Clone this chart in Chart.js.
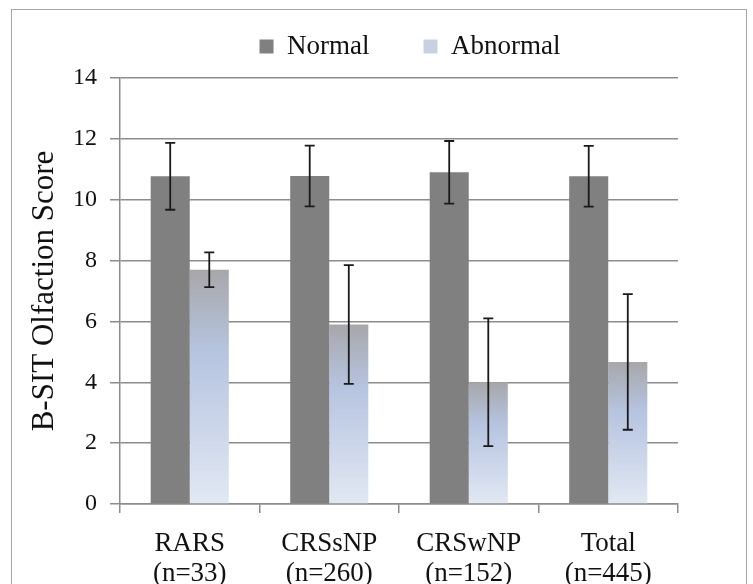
<!DOCTYPE html>
<html lang="en">
<head>
  <meta charset="UTF-8" />
  <title>B-SIT Olfaction Score</title>
  <script src="https://cdn.jsdelivr.net/npm/chart.js"></script>
  <style>
    body {
      margin: 0;
      background: #ffffff;
    }
    #wrap {
      position: relative;
      width: 753px;
      height: 584px;
    }
  </style>
</head>
<body>
  <div id="wrap">
    <canvas id="scoreChart" width="753" height="584"></canvas>
  </div>

  <script>
    // values
    const categories = [['RARS', '(n=33)'], ['CRSsNP', '(n=260)'], ['CRSwNP', '(n=152)'], ['Total', '(n=445)']];
    const normalMeans = [10.77, 10.78, 10.9, 10.77];
    const normalErrors = [1.1, 1.0, 1.03, 1.0];
    const abnormalMeans = [7.7, 5.9, 4.0, 4.67];
    const abnormalErrors = [0.57, 1.95, 2.1, 2.23];
    const yTicks = [0, 2, 4, 6, 8, 10, 12, 14];

    const axisGray = '#8c8c8c';
    const textColor = '#111111';
    const serif = "'Liberation Serif', 'Times New Roman', serif";

    // light gray at the top of each bar fading to pale blue at the base
    function abnormalFill(context) {
      const chart = context.chart;
      if (context.type !== 'data' || !chart.chartArea) return '#c6cfe2';
      const y = chart.scales.y;
      const top = y.getPixelForValue(abnormalMeans[context.dataIndex]);
      const base = y.getPixelForValue(0);
      const g = chart.ctx.createLinearGradient(0, top, 0, base);
      g.addColorStop(0, '#a7a7aa');
      g.addColorStop(0.35, '#b6c4e0');
      g.addColorStop(1, '#e2e8f3');
      return g;
    }

    const errorBars = {
      id: 'errorBars',
      afterDatasetsDraw(chart) {
        const ctx = chart.ctx;
        const y = chart.scales.y;
        const errs = [normalErrors, abnormalErrors];
        const means = [normalMeans, abnormalMeans];
        ctx.save();
        ctx.strokeStyle = '#1a1a1a';
        ctx.lineWidth = 1.8;
        chart.data.datasets.forEach((ds, i) => {
          chart.getDatasetMeta(i).data.forEach((bar, j) => {
            const hi = y.getPixelForValue(means[i][j] + errs[i][j]);
            const lo = y.getPixelForValue(means[i][j] - errs[i][j]);
            const x = bar.x;
            ctx.beginPath();
            ctx.moveTo(x, hi); ctx.lineTo(x, lo);
            ctx.moveTo(x - 5, hi); ctx.lineTo(x + 5, hi);
            ctx.moveTo(x - 5, lo); ctx.lineTo(x + 5, lo);
            ctx.stroke();
          });
        });
        ctx.restore();
      }
    };

    // legend sits right of centre and higher up in the original
    const legendShift = {
      id: 'legendShift',
      afterLayout(chart) {
        const lg = chart.legend;
        lg.left += 61;
        lg.right += 61;
        lg.top -= 8;
        lg.bottom -= 8;
      }
    };

    const frame = {
      id: 'frame',
      beforeDraw(chart) {
        const ctx = chart.ctx;
        ctx.save();
        ctx.strokeStyle = '#a6a6a6';
        ctx.lineWidth = 1;
        ctx.strokeRect(11.5, 9.5, 735, 600);
        ctx.restore();
      }
    };

    new Chart(document.getElementById('scoreChart').getContext('2d'), {
      type: 'bar',
      data: {
        labels: categories,
        datasets: [
          { label: 'Normal', data: normalMeans, backgroundColor: '#808080' },
          { label: 'Abnormal', data: abnormalMeans, backgroundColor: abnormalFill }
        ]
      },
      options: {
        responsive: false,
        devicePixelRatio: 1,
        animation: false,
        layout: { padding: { top: -13, left: 20, right: 75, bottom: 0 } },
        datasets: { bar: { categoryPercentage: 0.56, barPercentage: 1.0 } },
        plugins: {
          tooltip: { enabled: false },
          legend: {
            position: 'top',
            labels: {
              boxWidth: 14,
              boxHeight: 14,
              padding: 54,
              color: textColor,
              font: { family: serif, size: 27 },
              generateLabels: chart => {
                const items = Chart.defaults.plugins.legend.labels.generateLabels(chart);
                items[1].fillStyle = '#c8d0e2';
                return items;
              }
            }
          }
        },
        scales: {
          x: {
            grid: { offset: true, drawOnChartArea: false, drawTicks: true, tickLength: 9, color: axisGray, lineWidth: 1.5 },
            border: { color: axisGray, width: 1.5 },
            ticks: { color: textColor, font: { family: serif, size: 27, lineHeight: 1.1 }, padding: 16 },
            afterFit: s => { s.height = 80; }
          },
          y: {
            min: 0,
            max: 14,
            afterBuildTicks: s => { s.ticks = yTicks.map(v => ({ value: v })); },
            grid: { color: axisGray, lineWidth: 1.5, tickLength: 10 },
            border: { color: axisGray, width: 1.5 },
            ticks: { color: textColor, font: { family: serif, size: 24 }, padding: 13 },
            title: { display: true, text: 'B-SIT Olfaction Score', color: textColor, font: { family: serif, size: 31 }, padding: { top: 6, bottom: 0 } },
            afterFit: s => { s.width = 100; }
          }
        }
      },
      plugins: [errorBars, legendShift, frame]
    });
  </script>
</body>
</html>
